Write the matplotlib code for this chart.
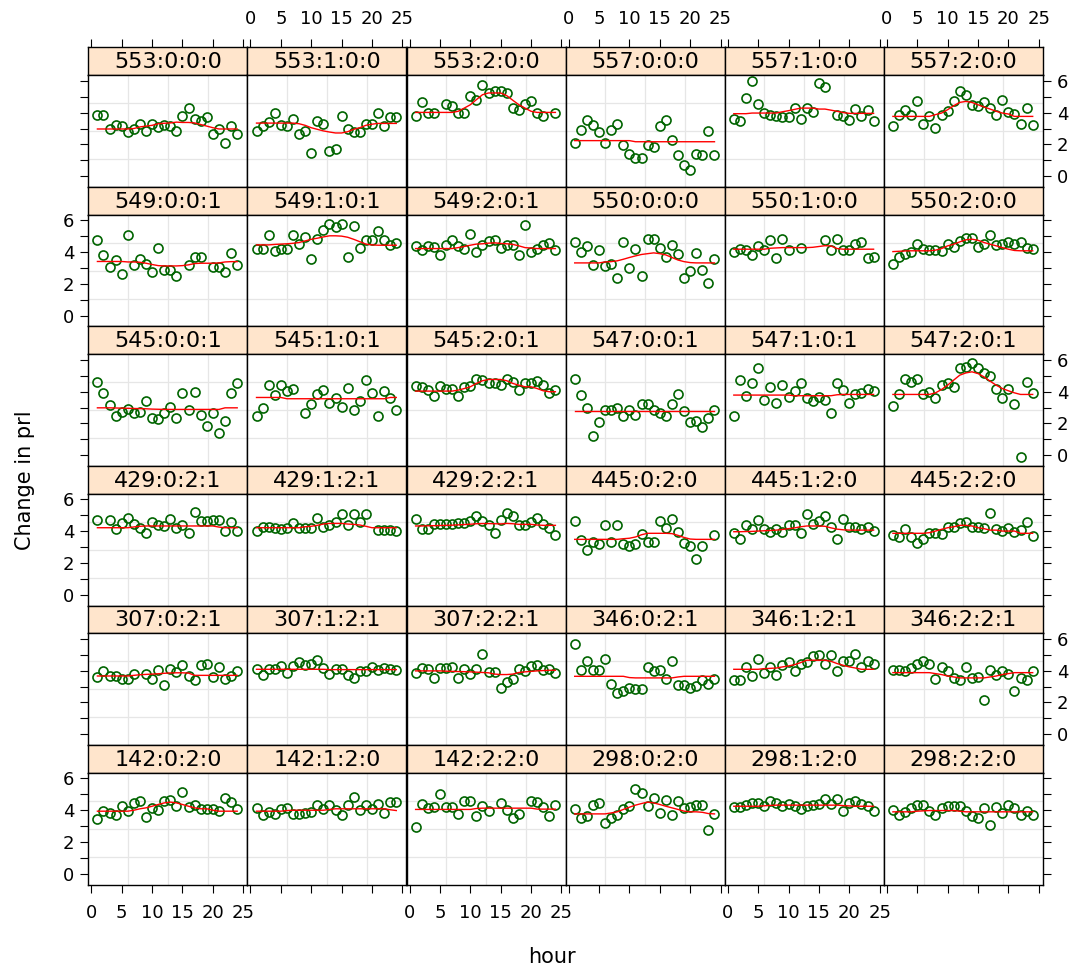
import numpy as np
import matplotlib
matplotlib.use("Agg")
import matplotlib.pyplot as plt

# ---- data -------------------------------------------------------------
hours = [1, 2, 3, 4, 5, 6, 7, 8, 9, 10, 11, 12, 13, 14, 15, 16, 17, 18, 19, 20, 21, 22, 23, 24]

panel_rows = [
    ["553:0:0:0", "553:1:0:0", "553:2:0:0", "557:0:0:0", "557:1:0:0", "557:2:0:0"],
    ["549:0:0:1", "549:1:0:1", "549:2:0:1", "550:0:0:0", "550:1:0:0", "550:2:0:0"],
    ["545:0:0:1", "545:1:0:1", "545:2:0:1", "547:0:0:1", "547:1:0:1", "547:2:0:1"],
    ["429:0:2:1", "429:1:2:1", "429:2:2:1", "445:0:2:0", "445:1:2:0", "445:2:2:0"],
    ["307:0:2:1", "307:1:2:1", "307:2:2:1", "346:0:2:1", "346:1:2:1", "346:2:2:1"],
    ["142:0:2:0", "142:1:2:0", "142:2:2:0", "298:0:2:0", "298:1:2:0", "298:2:2:0"],
]

# observed change in prl by hour (None = no measurement)
obs_553_0_0_0 = [3.87, 3.87, 2.99, 3.24, 3.13, 2.78, 2.99, 3.30, 2.82, 3.30, 3.09, 3.24, 3.13, 2.82, 3.80, 4.28, 3.59, 3.49, 3.72, 2.67, 2.97, 2.09, 3.13, 2.65]
obs_553_1_0_0 = [2.82, 3.18, 3.41, 3.97, 3.24, 3.13, 3.59, 2.67, 2.82, 1.46, 3.49, 3.30, 1.61, 1.71, 3.80, 2.97, 2.78, 2.78, 3.30, 3.30, 3.97, 3.13, 3.70, 3.70]
obs_553_2_0_0 = [3.80, 4.64, 3.97, 3.97, None, 4.54, 4.43, 3.97, 3.97, 5.02, 4.81, 5.75, 5.23, 5.37, 5.33, 5.23, 4.28, 4.18, 4.56, 4.74, 3.97, 3.80, None, 3.97]
obs_557_0_0_0 = [2.09, 2.92, 3.51, 3.24, 2.76, 2.09, 2.92, 3.30, 1.98, 1.42, 1.15, 1.15, 1.98, 1.82, 3.13, 3.51, 2.30, 1.31, 0.69, 0.41, 1.42, 1.36, 2.82, 1.36]
obs_557_1_0_0 = [3.59, 3.49, 4.91, 5.96, 4.54, 3.97, 3.87, 3.76, 3.72, 3.72, 4.28, 3.59, 4.28, 4.01, 5.85, 5.58, None, 3.87, 3.76, 3.51, 4.22, 3.76, 4.18, 3.49]
obs_557_2_0_0 = [3.13, 3.87, 4.18, 3.87, 4.70, 3.30, 3.80, 3.03, 3.87, 4.08, 4.70, 5.37, 5.08, 4.49, 4.43, 4.64, 4.28, 3.87, 4.81, 4.01, 3.91, 3.30, 4.28, 3.24]

obs_549_0_0_1 = [4.74, 3.82, 3.09, 3.49, 2.61, 5.06, 3.18, 3.55, 3.28, 2.72, 4.28, 2.86, 2.86, 2.51, None, 3.18, 3.72, 3.72, None, 3.09, 3.07, 2.78, 3.93, 3.18]
obs_549_1_0_1 = [4.18, 4.18, 5.06, 4.08, 4.18, 4.18, 5.06, 4.49, 4.95, 3.55, 4.81, 5.39, 5.79, 5.60, 5.79, 3.66, 5.64, 4.28, 4.77, 4.77, 5.33, 4.77, 4.45, 4.58]
obs_549_2_0_1 = [4.39, 4.14, 4.39, 4.33, 3.82, 4.43, 4.77, 4.39, 4.18, 5.12, 4.01, 4.43, 4.70, 4.74, 4.28, 4.43, 4.43, 3.82, 5.71, 4.01, 4.18, 4.43, 4.60, 4.14]
obs_550_0_0_0 = [4.64, 4.01, 4.39, 3.18, 4.12, 3.13, 3.24, 2.40, 4.66, 2.99, 4.18, 2.51, 4.85, 4.85, 4.28, 3.66, 4.43, 3.91, 2.40, 2.82, 3.93, 2.86, 2.05, 3.55]
obs_550_1_0_0 = [4.01, 4.22, 4.12, 3.82, 4.39, 4.14, 4.74, 3.62, 4.85, 4.14, None, 4.28, None, None, None, 4.74, 4.12, 4.85, 4.14, 4.14, 4.49, 4.66, 3.62, 3.70]
obs_550_2_0_0 = [3.24, 3.70, 3.91, 4.01, 4.49, 4.22, 4.12, 4.12, 4.08, 4.49, 4.33, 4.70, 4.91, 4.91, 4.33, 4.49, 5.06, 4.45, 4.49, 4.66, 4.49, 4.66, 4.28, 4.18]

obs_545_0_0_1 = [4.61, 3.94, 3.15, 2.46, 2.73, 2.88, 2.63, 2.73, 3.40, 2.37, 2.27, 2.63, 3.04, 2.37, 3.88, 2.83, 3.99, 2.56, 1.83, 2.63, 1.41, 2.16, 3.88, 4.51]
obs_545_1_0_1 = [2.46, 2.98, 4.40, 3.78, 4.40, 4.05, 4.15, None, 2.63, 3.25, 3.84, 4.09, 3.30, 3.57, 3.04, 4.24, 2.83, 3.40, 4.72, 3.88, 2.46, 4.05, 3.57, 2.83]
obs_545_2_0_1 = [4.34, 4.26, 4.09, 3.73, 4.34, 4.19, 4.19, 3.73, 4.26, 4.34, 4.82, 4.72, 4.51, 4.51, 4.40, 4.76, 4.61, 4.09, 4.51, 4.51, 4.66, 4.40, 3.88, 4.09]
obs_547_0_0_1 = [4.78, 3.78, 2.94, 1.22, 2.06, 2.83, 2.83, 2.98, 2.46, 2.83, 2.56, 3.21, 3.21, 2.83, 2.63, 2.46, 3.21, 3.84, 2.79, 2.06, 2.16, 1.79, 2.37, 2.83]
obs_547_1_0_1 = [2.46, 4.72, 3.73, 4.51, 5.45, 3.50, 4.30, 3.29, 4.40, 3.67, 4.05, 4.51, 3.57, 3.40, 3.67, 3.46, 2.63, 4.51, 4.13, 3.29, 3.84, 3.94, 4.15, 4.05]
obs_547_2_0_1 = [3.08, 3.84, 4.78, 4.61, 4.78, 3.84, 3.99, 3.57, 4.40, 4.51, 4.30, 5.45, 5.55, 5.81, 5.51, 5.18, 4.97, 4.15, 3.57, 4.15, 3.19, -0.10, 4.61, 3.94]

obs_429_0_2_1 = [4.67, None, 4.67, 4.11, 4.48, 4.80, 4.42, 4.21, 3.90, 4.57, 4.36, 4.32, 4.78, 4.17, 4.36, 3.90, 5.22, 4.63, 4.63, 4.67, 4.67, 4.00, 4.57, 4.00]
obs_429_1_2_1 = [4.00, 4.27, 4.27, 4.17, 4.11, 4.17, 4.48, 4.17, 4.17, 4.17, 4.80, 4.25, 4.36, 4.57, 5.05, 4.36, 5.05, 4.57, 5.05, None, 4.06, 4.06, 4.06, 4.00]
obs_429_2_2_1 = [4.78, 4.11, 4.11, 4.42, 4.42, 4.42, 4.42, 4.48, 4.48, 4.63, 4.94, 4.63, 4.36, 3.90, 4.67, 5.15, 4.94, 4.36, 4.36, 4.57, 4.84, 4.42, 4.21, 3.73]
obs_445_0_2_0 = [4.63, 3.42, 2.79, 3.31, 3.21, 4.38, 3.33, 4.38, 3.17, 3.06, 3.21, 3.79, 3.33, 3.33, 4.63, 4.17, 4.78, 3.94, 3.27, 3.06, 2.22, 3.06, None, 3.73]
obs_445_1_2_0 = [3.86, 3.52, 4.38, 4.15, 4.67, 4.15, 3.94, 4.15, 3.94, 4.36, 4.36, 3.90, 5.05, 4.46, 4.63, 4.94, 4.27, 3.52, 4.78, 4.27, 4.27, 4.11, 4.27, 4.00]
obs_445_2_2_0 = [3.73, 3.63, 4.11, 3.65, 3.27, 3.52, 3.90, 3.90, 3.79, 4.27, 4.27, 4.48, 4.57, 4.27, 4.27, 4.21, 5.11, 4.15, 4.00, 4.21, 3.94, 4.06, 4.57, 3.69]

obs_307_0_2_1 = [3.60, 3.98, 3.66, 3.66, 3.45, 3.45, 3.77, None, 3.77, 3.45, 4.06, 3.08, 4.12, 3.91, 4.33, 3.66, 3.39, 4.33, 4.44, 3.60, 4.23, 3.45, 3.64, 3.98]
obs_307_1_2_1 = [4.08, 3.75, 4.08, 4.12, 4.29, 3.85, 4.27, 4.54, 4.33, 4.44, 4.65, 4.19, 3.81, 4.08, 4.08, 3.71, 3.56, 3.96, 3.96, 4.23, 4.06, 4.19, 4.12, 4.02]
obs_307_2_2_1 = [3.85, 4.19, 4.12, 3.54, 4.17, 4.19, 4.23, 3.56, 4.12, 3.77, 4.12, 5.06, 3.91, 3.91, 2.91, 3.29, 3.50, 4.12, 3.96, 4.27, 4.37, 4.02, 4.12, 3.85]
obs_346_0_2_1 = [5.65, 4.06, 4.60, 4.06, 4.06, 4.71, 3.18, 2.62, 2.72, 2.91, 2.83, 2.83, 4.23, 3.96, 4.06, 3.50, 4.60, 3.12, 3.08, 2.91, 3.04, 3.39, 3.18, 3.50]
obs_346_1_2_1 = [3.39, 3.39, 4.23, 3.66, 4.71, 3.85, 4.23, 3.75, 4.37, 4.54, 3.96, 4.44, 4.54, 4.90, 5.00, 4.44, 5.00, 3.96, 4.58, 4.58, 5.06, 4.23, 4.60, 4.40]
obs_346_2_2_1 = [4.06, 4.06, 3.96, 4.19, 4.44, 4.60, 4.44, 3.50, 4.23, 3.98, 3.54, 3.39, 4.23, 3.54, 3.60, 2.14, 4.06, 3.71, 3.98, 3.81, 2.72, 3.54, 3.39, 3.98]

obs_142_0_2_0 = [3.41, 3.93, 3.83, 3.72, 4.24, 3.93, 4.45, 4.56, 3.55, 4.10, 3.99, 4.56, 4.66, 4.24, 5.14, 4.18, 4.31, 4.04, 4.08, 4.08, 3.93, 4.77, 4.52, 4.08]
obs_142_1_2_0 = [4.10, 3.72, 3.89, 3.76, 4.04, 4.14, 3.78, 3.78, 3.83, 3.89, 4.29, 4.08, 4.29, 3.99, 3.72, 4.29, 4.81, 3.99, 4.29, 4.04, 4.35, 3.83, 4.50, 4.50]
obs_142_2_2_0 = [2.92, 4.35, 4.10, 4.20, 5.02, 4.20, 4.20, 3.78, 4.56, 4.56, 3.62, 4.24, 3.97, None, 4.45, 3.99, 3.51, 3.78, None, 4.56, 4.50, 4.20, 3.62, 4.29]
obs_298_0_2_0 = [4.04, 3.51, 3.62, 4.29, 4.45, 3.16, 3.51, 3.68, 4.04, 4.24, 5.33, 5.08, 4.24, 4.73, 3.83, 4.66, 3.66, 4.56, 4.14, 4.18, 4.29, 4.29, 2.78, 3.78]
obs_298_1_2_0 = [4.18, 4.18, 4.31, 4.45, 4.45, 4.24, 4.60, 4.45, 4.24, 4.41, 4.24, 4.08, 4.24, 4.31, 4.35, 4.71, 4.35, 4.71, 3.97, 4.45, 4.60, 4.39, 4.24, 3.97]
obs_298_2_2_0 = [3.99, 3.72, 3.87, 4.14, 4.29, 4.29, 3.97, 3.72, 4.14, 4.24, 4.24, 4.24, 3.97, 3.62, 3.51, 4.10, 3.05, 4.20, 3.83, 4.31, 4.14, 3.72, 3.97, 3.68]

# smoothed fit by hour
fit_553_0_0_0 = [2.97, 2.97, 2.97, 2.97, 2.97, 2.97, 3.00, 3.10, 3.15, 3.20, 3.30, 3.33, 3.35, 3.40, 3.38, 3.38, 3.35, 3.25, 3.15, 3.05, 2.97, 2.97, 2.97, 2.97]
fit_553_1_0_0 = [3.34, 3.34, 3.34, 3.34, 3.34, 3.34, 3.34, 3.30, 3.20, 3.05, 2.95, 2.85, 2.78, 2.72, 2.72, 2.80, 2.95, 3.05, 3.20, 3.27, 3.32, 3.32, 3.32, 3.32]
fit_553_2_0_0 = [4.01, 4.01, 4.01, 4.01, 4.01, 4.01, 4.01, 4.08, 4.28, 4.49, 4.81, 5.12, 5.23, 5.23, 5.23, 5.06, 4.77, 4.49, 4.28, 4.08, 4.01, 4.01, 4.01, 4.01]
fit_557_0_0_0 = [2.24, 2.24, 2.24, 2.24, 2.24, 2.24, 2.24, 2.24, 2.24, 2.24, 2.17, 2.17, 2.17, 2.17, 2.17, 2.17, 2.17, 2.17, 2.17, 2.17, 2.17, 2.17, 2.17, 2.17]
fit_557_1_0_0 = [3.93, 3.93, 3.93, 3.97, 3.97, 3.97, 3.97, 3.97, 4.05, 4.12, 4.20, 4.28, 4.28, 4.28, 4.22, 4.22, 4.15, 4.08, 4.00, 3.95, 3.95, 3.95, 3.95, 3.95]
fit_557_2_0_0 = [3.76, 3.76, 3.76, 3.76, 3.76, 3.76, 3.76, 3.87, 3.97, 4.18, 4.43, 4.64, 4.70, 4.64, 4.49, 4.35, 4.22, 4.08, 3.97, 3.91, 3.76, 3.76, 3.76, 3.76]

fit_549_0_0_1 = [3.41, 3.41, 3.41, 3.41, 3.41, 3.38, 3.38, 3.36, 3.30, 3.22, 3.15, 3.13, 3.13, 3.13, 3.15, 3.20, 3.28, 3.30, 3.30, 3.30, 3.32, 3.38, 3.40, 3.40]
fit_549_1_0_1 = [4.45, 4.45, 4.45, 4.48, 4.50, 4.52, 4.55, 4.60, 4.70, 4.80, 4.87, 4.95, 5.02, 5.02, 5.00, 4.93, 4.80, 4.65, 4.50, 4.45, 4.43, 4.43, 4.43, 4.43]
fit_549_2_0_1 = [4.22, 4.22, 4.22, 4.22, 4.22, 4.22, 4.22, 4.28, 4.35, 4.43, 4.50, 4.52, 4.56, 4.58, 4.54, 4.52, 4.48, 4.39, 4.28, 4.25, 4.22, 4.22, 4.22, 4.22]
fit_550_0_0_0 = [3.32, 3.32, 3.32, 3.32, 3.32, 3.38, 3.40, 3.45, 3.55, 3.66, 3.76, 3.85, 3.90, 3.95, 3.90, 3.82, 3.66, 3.50, 3.40, 3.34, 3.32, 3.32, 3.32, 3.32]
fit_550_1_0_0 = [4.18, 4.18, 4.18, 4.18, 4.18, 4.18, 4.24, 4.26, 4.28, 4.28, 4.28, 4.28, 4.28, 4.30, 4.35, 4.40, 4.38, 4.22, 4.18, 4.18, 4.18, 4.18, 4.18, 4.18]
fit_550_2_0_0 = [4.03, 4.05, 4.07, 4.08, 4.08, 4.08, 4.08, 4.12, 4.22, 4.39, 4.49, 4.64, 4.77, 4.81, 4.74, 4.60, 4.49, 4.39, 4.28, 4.18, 4.10, 4.08, 4.08, 4.08]

fit_545_0_0_1 = [2.98, 2.98, 2.98, 2.97, 2.96, 2.95, 2.94, 2.93, 2.92, 2.90, 2.89, 2.88, 2.88, 2.88, 2.88, 2.88, 2.88, 2.88, 2.88, 2.88, 2.88, 2.98, 2.98, 2.98]
fit_545_1_0_1 = [3.63, 3.63, 3.63, 3.63, 3.63, 3.55, 3.55, 3.55, 3.55, 3.55, 3.55, 3.55, 3.55, 3.55, 3.55, 3.55, 3.55, 3.55, 3.55, 3.55, 3.55, 3.55, 3.63, 3.63]
fit_545_2_0_1 = [4.03, 4.03, 4.03, 4.03, 4.03, 4.03, 4.03, 4.09, 4.19, 4.30, 4.51, 4.68, 4.76, 4.76, 4.76, 4.68, 4.51, 4.40, 4.30, 4.30, 4.19, 4.05, 3.99, 3.99]
fit_547_0_0_1 = [2.77, 2.77, 2.77, 2.77, 2.77, 2.77, 2.77, 2.77, 2.77, 2.77, 2.77, 2.77, 2.77, 2.77, 2.77, 2.77, 2.77, 2.77, 2.77, 2.77, 2.77, 2.77, 2.77, 2.77]
fit_547_1_0_1 = [3.78, 3.78, 3.78, 3.78, 3.78, 3.78, 3.78, 3.78, 3.78, 3.78, 3.74, 3.74, 3.74, 3.74, 3.74, 3.74, 3.74, 3.80, 3.82, 3.82, 3.82, 3.82, 3.82, 3.82]
fit_547_2_0_1 = [3.82, 3.82, 3.82, 3.82, 3.82, 3.82, 3.82, 3.92, 4.13, 4.40, 4.72, 5.03, 5.17, 5.24, 5.13, 4.92, 4.65, 4.40, 4.19, 4.05, 3.92, 3.82, 3.82, 3.82]

fit_429_0_2_1 = [4.21, 4.21, 4.21, 4.21, 4.21, 4.21, 4.26, 4.30, 4.32, 4.32, 4.32, 4.32, 4.32, 4.32, 4.32, 4.32, 4.32, 4.32, 4.32, 4.32, 4.25, 4.21, 4.21, 4.21]
fit_429_1_2_1 = [4.21, 4.21, 4.21, 4.21, 4.21, 4.21, 4.21, 4.21, 4.27, 4.30, 4.36, 4.44, 4.48, 4.48, 4.48, 4.44, 4.42, 4.38, 4.30, 4.21, 4.21, 4.21, 4.21, 4.21]
fit_429_2_2_1 = [4.32, 4.32, 4.33, 4.34, 4.35, 4.36, 4.37, 4.39, 4.41, 4.43, 4.46, 4.47, 4.47, 4.46, 4.45, 4.48, 4.46, 4.42, 4.42, 4.42, 4.38, 4.36, 4.36, 4.36]
fit_445_0_2_0 = [3.48, 3.48, 3.48, 3.48, 3.48, 3.48, 3.48, 3.48, 3.52, 3.55, 3.63, 3.77, 3.86, 3.86, 3.86, 3.86, 3.84, 3.73, 3.60, 3.50, 3.48, 3.48, 3.48, 3.48]
fit_445_1_2_0 = [3.96, 3.96, 3.97, 3.98, 4.00, 4.02, 4.04, 4.06, 4.10, 4.15, 4.20, 4.27, 4.32, 4.32, 4.32, 4.30, 4.20, 4.12, 4.08, 4.06, 4.06, 4.06, 4.06, 4.06]
fit_445_2_2_0 = [3.86, 3.86, 3.86, 3.86, 3.86, 3.86, 3.90, 4.00, 4.11, 4.21, 4.27, 4.36, 4.36, 4.32, 4.21, 4.15, 4.06, 4.06, 4.00, 4.00, 4.00, 3.86, 3.86, 3.86]

fit_307_0_2_1 = [3.66, 3.66, 3.66, 3.66, 3.66, 3.66, 3.70, 3.74, 3.76, 3.78, 3.80, 3.83, 3.85, 3.86, 3.86, 3.84, 3.70, 3.70, 3.70, 3.70, 3.70, 3.70, 3.70, 3.70]
fit_307_1_2_1 = [4.08, 4.08, 4.08, 4.08, 4.08, 4.08, 4.08, 4.08, 4.08, 4.08, 4.08, 4.08, 4.06, 4.06, 4.06, 4.06, 4.06, 4.06, 4.06, 4.06, 4.06, 4.06, 4.06, 4.06]
fit_307_2_2_1 = [3.98, 3.98, 3.98, 3.98, 3.98, 3.96, 3.95, 3.94, 3.93, 3.92, 3.90, 3.88, 3.86, 3.78, 3.75, 3.75, 3.78, 3.88, 3.92, 3.95, 3.98, 4.00, 4.02, 4.02]
fit_346_0_2_1 = [3.64, 3.64, 3.64, 3.64, 3.64, 3.64, 3.64, 3.64, 3.64, 3.56, 3.54, 3.54, 3.54, 3.54, 3.54, 3.54, 3.54, 3.60, 3.64, 3.64, 3.64, 3.64, 3.64, 3.64]
fit_346_1_2_1 = [4.08, 4.08, 4.08, 4.08, 4.08, 4.12, 4.14, 4.16, 4.23, 4.29, 4.37, 4.50, 4.65, 4.65, 4.65, 4.65, 4.58, 4.44, 4.33, 4.23, 4.16, 4.08, 4.08, 4.08]
fit_346_2_2_1 = [3.87, 3.87, 3.87, 3.87, 3.87, 3.87, 3.87, 3.81, 3.75, 3.66, 3.60, 3.54, 3.54, 3.54, 3.54, 3.54, 3.60, 3.66, 3.75, 3.81, 3.87, 3.87, 3.87, 3.87]

fit_142_0_2_0 = [3.93, 3.93, 3.93, 3.93, 3.93, 3.93, 3.99, 4.08, 4.14, 4.24, 4.35, 4.45, 4.50, 4.45, 4.35, 4.24, 4.14, 4.08, 4.08, 3.99, 3.93, 3.93, 3.93, 3.93]
fit_142_1_2_0 = [3.93, 3.93, 3.93, 3.93, 3.93, 3.97, 3.99, 3.99, 3.99, 3.99, 3.99, 3.99, 4.04, 4.08, 4.08, 4.08, 4.08, 4.08, 4.08, 4.08, 4.08, 4.08, 4.02, 3.97]
fit_142_2_2_0 = [4.04, 4.04, 4.04, 4.04, 4.04, 4.04, 4.04, 4.04, 4.04, 4.04, 4.10, 4.12, 4.12, 4.12, 4.12, 4.12, 4.12, 4.12, 4.12, 4.12, 4.06, 4.06, 4.06, 4.06]
fit_298_0_2_0 = [3.76, 3.76, 3.76, 3.76, 3.76, 3.76, 3.82, 3.89, 4.04, 4.18, 4.31, 4.41, 4.50, 4.45, 4.35, 4.24, 4.14, 4.04, 3.93, 3.89, 3.89, 3.86, 3.78, 3.76]
fit_298_1_2_0 = [4.24, 4.24, 4.24, 4.24, 4.24, 4.27, 4.29, 4.31, 4.31, 4.31, 4.31, 4.31, 4.31, 4.31, 4.31, 4.31, 4.31, 4.31, 4.28, 4.26, 4.24, 4.24, 4.24, 4.24]
fit_298_2_2_0 = [3.89, 3.89, 3.89, 3.89, 3.93, 3.95, 3.97, 3.97, 3.97, 3.97, 3.97, 3.93, 3.89, 3.89, 3.89, 3.89, 3.89, 3.89, 3.89, 3.89, 3.89, 3.89, 3.89, 3.89]

observed = {
    "553:0:0:0": obs_553_0_0_0, "553:1:0:0": obs_553_1_0_0, "553:2:0:0": obs_553_2_0_0,
    "557:0:0:0": obs_557_0_0_0, "557:1:0:0": obs_557_1_0_0, "557:2:0:0": obs_557_2_0_0,
    "549:0:0:1": obs_549_0_0_1, "549:1:0:1": obs_549_1_0_1, "549:2:0:1": obs_549_2_0_1,
    "550:0:0:0": obs_550_0_0_0, "550:1:0:0": obs_550_1_0_0, "550:2:0:0": obs_550_2_0_0,
    "545:0:0:1": obs_545_0_0_1, "545:1:0:1": obs_545_1_0_1, "545:2:0:1": obs_545_2_0_1,
    "547:0:0:1": obs_547_0_0_1, "547:1:0:1": obs_547_1_0_1, "547:2:0:1": obs_547_2_0_1,
    "429:0:2:1": obs_429_0_2_1, "429:1:2:1": obs_429_1_2_1, "429:2:2:1": obs_429_2_2_1,
    "445:0:2:0": obs_445_0_2_0, "445:1:2:0": obs_445_1_2_0, "445:2:2:0": obs_445_2_2_0,
    "307:0:2:1": obs_307_0_2_1, "307:1:2:1": obs_307_1_2_1, "307:2:2:1": obs_307_2_2_1,
    "346:0:2:1": obs_346_0_2_1, "346:1:2:1": obs_346_1_2_1, "346:2:2:1": obs_346_2_2_1,
    "142:0:2:0": obs_142_0_2_0, "142:1:2:0": obs_142_1_2_0, "142:2:2:0": obs_142_2_2_0,
    "298:0:2:0": obs_298_0_2_0, "298:1:2:0": obs_298_1_2_0, "298:2:2:0": obs_298_2_2_0,
}
fitted = {
    "553:0:0:0": fit_553_0_0_0, "553:1:0:0": fit_553_1_0_0, "553:2:0:0": fit_553_2_0_0,
    "557:0:0:0": fit_557_0_0_0, "557:1:0:0": fit_557_1_0_0, "557:2:0:0": fit_557_2_0_0,
    "549:0:0:1": fit_549_0_0_1, "549:1:0:1": fit_549_1_0_1, "549:2:0:1": fit_549_2_0_1,
    "550:0:0:0": fit_550_0_0_0, "550:1:0:0": fit_550_1_0_0, "550:2:0:0": fit_550_2_0_0,
    "545:0:0:1": fit_545_0_0_1, "545:1:0:1": fit_545_1_0_1, "545:2:0:1": fit_545_2_0_1,
    "547:0:0:1": fit_547_0_0_1, "547:1:0:1": fit_547_1_0_1, "547:2:0:1": fit_547_2_0_1,
    "429:0:2:1": fit_429_0_2_1, "429:1:2:1": fit_429_1_2_1, "429:2:2:1": fit_429_2_2_1,
    "445:0:2:0": fit_445_0_2_0, "445:1:2:0": fit_445_1_2_0, "445:2:2:0": fit_445_2_2_0,
    "307:0:2:1": fit_307_0_2_1, "307:1:2:1": fit_307_1_2_1, "307:2:2:1": fit_307_2_2_1,
    "346:0:2:1": fit_346_0_2_1, "346:1:2:1": fit_346_1_2_1, "346:2:2:1": fit_346_2_2_1,
    "142:0:2:0": fit_142_0_2_0, "142:1:2:0": fit_142_1_2_0, "142:2:2:0": fit_142_2_2_0,
    "298:0:2:0": fit_298_0_2_0, "298:1:2:0": fit_298_1_2_0, "298:2:2:0": fit_298_2_2_0,
}

x_ticks = [0, 5, 10, 15, 20, 25]
y_ticks = [0, 1, 2, 3, 4, 5, 6]
y_ticklabels = ["0", "", "2", "", "4", "", "6"]

# ---- layout (pixels) --------------------------------------------------
W, H = 1086, 971
X0, CW = 88.3, 159.1           # left edge, column width
Y0, RH, SH = 47.5, 139.5, 27.7  # top edge, row pitch, strip height
PH = RH - SH
XLIM = (-0.5, 25.68)
YLIM = (-0.67, 6.345)

STRIP_BG = "#ffe5cc"
GRID_COL = "#e6e6e6"
PT_COL = "#006400"
TICK_FS = 13

plt.rcParams["font.family"] = ["DejaVu Sans"]
fig = plt.figure(figsize=(W / 100, H / 100), dpi=100)


def frac(x, y, w, h):
    return [x / W, 1 - (y + h) / H, w / W, h / H]


def hide_ticks(ax):
    ax.tick_params(which="both", bottom=False, top=False, left=False, right=False,
                   labelbottom=False, labeltop=False, labelleft=False, labelright=False)


nrows, ncols = len(panel_rows), len(panel_rows[0])
for r, row in enumerate(panel_rows):
    for c, label in enumerate(row):
        x = X0 + c * CW
        sy = Y0 + r * RH

        # strip
        sax = fig.add_axes(frac(x, sy, CW, SH))
        sax.set_facecolor(STRIP_BG)
        sax.set_xlim(*XLIM)
        sax.set_ylim(0, 1)
        hide_ticks(sax)
        sax.set_yticks([])
        for s in sax.spines.values():
            s.set_linewidth(1.0)
        sax.text(0.5, 0.47, label, transform=sax.transAxes, ha="center", va="center",
                 fontsize=16, color="black")
        if r == 0:
            sax.set_xticks(x_ticks)
            sax.tick_params(axis="x", which="both", top=True, bottom=False,
                            labeltop=(c % 2 == 1), labelbottom=False,
                            direction="out", length=6, width=0.8, pad=8,
                            labelsize=TICK_FS)

        # panel
        ax = fig.add_axes(frac(x, sy + SH, CW, PH))
        ax.set_xlim(*XLIM)
        ax.set_ylim(*YLIM)
        for gx in np.linspace(XLIM[0], XLIM[1], 5)[1:-1]:
            ax.axvline(gx, color=GRID_COL, lw=0.9, zorder=0)
        for gy in np.linspace(YLIM[0], YLIM[1], 5)[1:-1]:
            ax.axhline(gy, color=GRID_COL, lw=0.9, zorder=0)

        yv = np.array(observed[label], dtype=float)
        ax.plot(hours, yv, linestyle="none", marker="o", markersize=6.5,
                markerfacecolor="none", markeredgecolor=PT_COL, markeredgewidth=1.2,
                zorder=2)
        ax.plot(hours, fitted[label], color="red", lw=1.0, zorder=3)

        for s in ax.spines.values():
            s.set_linewidth(1.0)

        hide_ticks(ax)
        ax.set_xticks(x_ticks)
        ax.set_yticks(y_ticks)
        ax.set_yticklabels(y_ticklabels)
        ax.tick_params(direction="out", length=6, width=0.8, labelsize=TICK_FS)
        if r == nrows - 1:
            ax.tick_params(axis="x", bottom=True, labelbottom=(c % 2 == 0), pad=8)
        if c == 0:
            ax.tick_params(axis="y", left=True, labelleft=(r % 2 == 1), pad=4)
        if c == ncols - 1:
            ax.tick_params(axis="y", right=True, labelright=(r % 2 == 0), pad=4)

fig.text(552 / W, 1 - 957 / H, "hour", ha="center", va="center", fontsize=15)
fig.text(25 / W, 1 - 480 / H, "Change in prl", ha="center", va="center",
         rotation=90, fontsize=15)

fig.savefig("out.png", dpi=100)
